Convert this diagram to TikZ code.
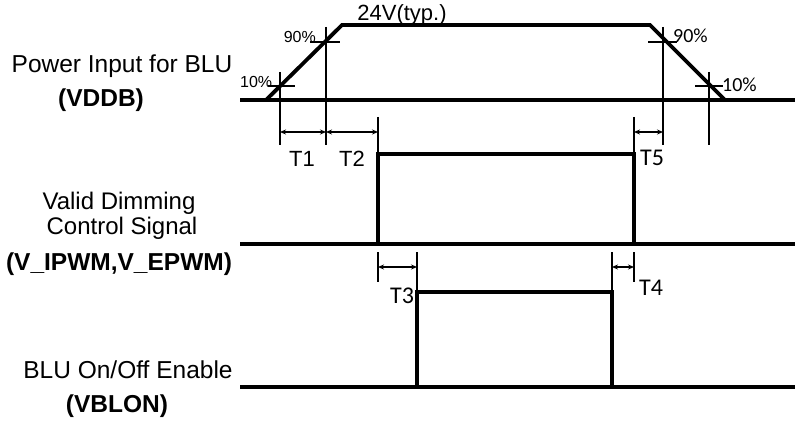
\documentclass[tikz,border=0pt]{standalone}
\usepackage{fontspec}
\setmainfont{Liberation Sans}
\newfontfamily\calfont{Carlito}
\usetikzlibrary{arrows.meta}

\begin{document}
\begin{tikzpicture}[x=1pt,y=-1pt,
		sigline/.style={line width=3.8pt, line join=miter},
		tickline/.style={line width=1.8pt},
		span/.style={line width=1.5pt, {Stealth[length=6pt,width=5pt]}-{Stealth[length=6pt,width=5pt]}},
		sigtext/.style={inner sep=0pt, anchor=base, font=\fontsize{24.5}{27}\selectfont},
		boldtext/.style={sigtext, font=\fontsize{24.5}{27}\selectfont\bfseries},
		ttext/.style={inner sep=0pt, anchor=base, font=\fontsize{22}{24}\selectfont},
		ctext/.style={inner sep=0pt, anchor=base, font=\fontsize{24}{26}\calfont},
		pcttext/.style={inner sep=0pt, anchor=base, font=\fontsize{16}{18}\selectfont}]
	\useasboundingbox (0,0) rectangle (795,425);
	
	\coordinate (vddbL) at (240,100);
	\coordinate (vddbR) at (795,100);
	\coordinate (up0) at (266,100);
	\coordinate (up1) at (342,25);
	\coordinate (down0) at (650,25);
	\coordinate (down1) at (725,100);
	\draw[sigline] (vddbL) -- (vddbR);
	\draw[sigline] (up0) -- (up1) -- (down0) -- (down1);
	
	\coordinate (pwmL) at (240,244);
	\coordinate (pwmR) at (795,244);
	\coordinate (pwmOn) at (378,244);
	\coordinate (pwmTop) at (634,154);
	\draw[sigline] (pwmL) -- (pwmR);
	\draw[sigline] (pwmOn) |- (pwmTop) -- (pwmTop |- pwmR);
	
	\coordinate (blonL) at (240,387);
	\coordinate (blonR) at (795,387);
	\coordinate (blonOn) at (417,387);
	\coordinate (blonTop) at (612,292);
	\draw[sigline] (blonL) -- (blonR);
	\draw[sigline] (blonOn) |- (blonTop) -- (blonTop |- blonR);
	
	% 10% / 90% marks
	\draw[tickline] (280,72) -- (280,145) (268,86) -- (295,86);
	\draw[tickline] (326,27) -- (326,145) (310,42) -- (340,42);
	\draw[tickline] (663,27) -- (663,145) (648,42) -- (677,42);
	\draw[tickline] (709,72) -- (709,145) (695,86) -- (723,86);
	\draw[tickline] (378,117) -- (378,154);
	\draw[tickline] (634,117) -- (634,154);
	\draw[tickline] (378,252) -- (378,282);
	\draw[tickline] (417,252) -- (417,292);
	\draw[tickline] (612,252) -- (612,292);
	\draw[tickline] (634,252) -- (634,282);
	
	\coordinate (t1a) at (280,132);
	\coordinate (t1b) at (326,132);
	\coordinate (t2b) at (378,132);
	\coordinate (t5a) at (634,132);
	\coordinate (t5b) at (663,132);
	\coordinate (t3a) at (378,267);
	\coordinate (t3b) at (417,267);
	\coordinate (t4a) at (612,267);
	\coordinate (t4b) at (634,267);
	\draw[span] (t1a) -- (t1b);
	\draw[span] (t1b) -- (t2b);
	\draw[span] (t5a) -- (t5b);
	\draw[span] (t3a) -- (t3b);
	\draw[span] (t4a) -- (t4b);
	
	\node[ttext] (lblT1) at (302,166) {T1};
	\node[ttext] (lblT2) at (352,166) {T2};
	\node[ctext] (lblT5) at (652,165) {T5};
	\node[ctext] (lblT3) at (402,303) {T3};
	\node[ctext] (lblT4) at (651,295) {T4};
	
	\node[pcttext, anchor=base east] (lo90) at (316,43) {90\%};
	\node[pcttext, anchor=base west] (lo10) at (240,88) {10\%};
	\node[pcttext, anchor=base west, font=\fontsize{20}{22}\calfont] (hi90) at (673,43) {90\%};
	\node[pcttext, anchor=base west, font=\fontsize{20}{22}\calfont] (hi10) at (722,92) {10\%};
	\node[ttext] (typ) at (402,21) {24V(typ.)};
	
	\node[sigtext] (vddbName) at (122,73) {Power Input for BLU};
	\node[boldtext] (vddbPin) at (101,107) {(VDDB)};
	\node[sigtext, font=\fontsize{24}{26}\selectfont] (pwmName1) at (119,209) {Valid Dimming};
	\node[sigtext, font=\fontsize{24}{26}\selectfont] (pwmName2) at (122,234) {Control Signal};
	\node[boldtext] (pwmPin) at (119,270) {(V\_IPWM,V\_EPWM)};
	\node[sigtext] (blonName) at (128,378) {BLU On/Off Enable};
	\node[boldtext] (blonPin) at (117,412) {(VBLON)};
\end{tikzpicture}
\end{document}
